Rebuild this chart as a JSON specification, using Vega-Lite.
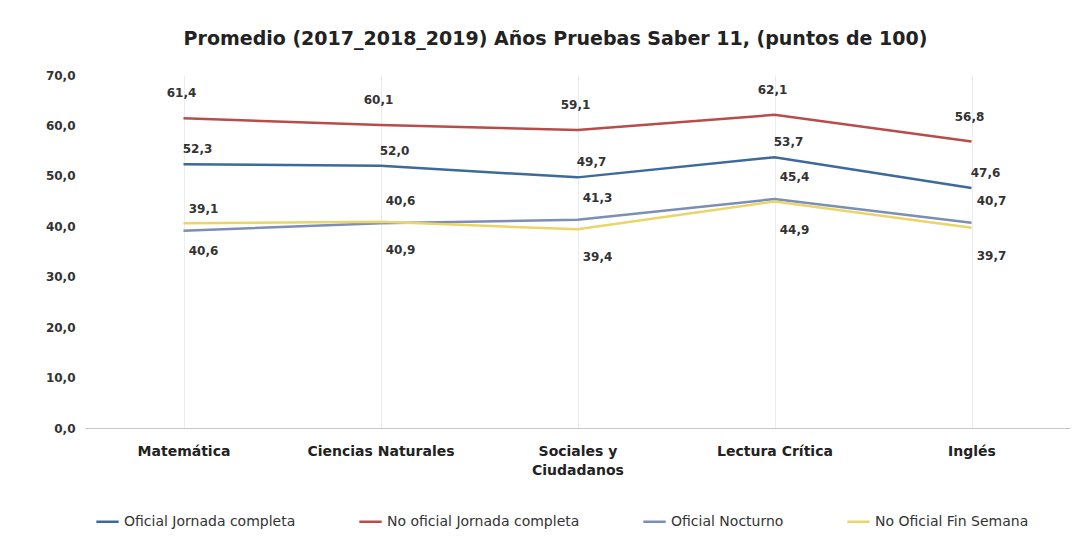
{
  "$schema": "https://vega.github.io/schema/vega-lite/v6.json",
  "width": 985,
  "height": 353,
  "autosize": {"type": "none"},
  "padding": {"left": 85, "top": 75, "right": 12, "bottom": 116},
  "background": "white",
  "title": {
    "text": "Promedio (2017_2018_2019) Años Pruebas Saber 11, (puntos de 100)",
    "font": "DejaVu Sans",
    "fontSize": 19,
    "fontWeight": "bold",
    "color": "#222222",
    "offset": 20,
    "anchor": "middle",
    "dx": -22
  },
  "config": {
    "view": {"stroke": null},
    "font": "DejaVu Sans",
    "locale": {
      "number": {"decimal": ",", "thousands": ".", "grouping": [3], "currency": ["$", ""]}
    }
  },
  "data": {
    "values": [
      {"area": "Matemática", "serie": "Oficial Jornada completa", "valor": 52.3},
      {"area": "Ciencias Naturales", "serie": "Oficial Jornada completa", "valor": 52.0},
      {"area": "Sociales y Ciudadanos", "serie": "Oficial Jornada completa", "valor": 49.7},
      {"area": "Lectura Crítica", "serie": "Oficial Jornada completa", "valor": 53.7},
      {"area": "Inglés", "serie": "Oficial Jornada completa", "valor": 47.6},
      {"area": "Matemática", "serie": "No oficial Jornada completa", "valor": 61.4},
      {"area": "Ciencias Naturales", "serie": "No oficial Jornada completa", "valor": 60.1},
      {"area": "Sociales y Ciudadanos", "serie": "No oficial Jornada completa", "valor": 59.1},
      {"area": "Lectura Crítica", "serie": "No oficial Jornada completa", "valor": 62.1},
      {"area": "Inglés", "serie": "No oficial Jornada completa", "valor": 56.8},
      {"area": "Matemática", "serie": "Oficial Nocturno", "valor": 39.1},
      {"area": "Ciencias Naturales", "serie": "Oficial Nocturno", "valor": 40.6},
      {"area": "Sociales y Ciudadanos", "serie": "Oficial Nocturno", "valor": 41.3},
      {"area": "Lectura Crítica", "serie": "Oficial Nocturno", "valor": 45.4},
      {"area": "Inglés", "serie": "Oficial Nocturno", "valor": 40.7},
      {"area": "Matemática", "serie": "No Oficial Fin Semana", "valor": 40.6},
      {"area": "Ciencias Naturales", "serie": "No Oficial Fin Semana", "valor": 40.9},
      {"area": "Sociales y Ciudadanos", "serie": "No Oficial Fin Semana", "valor": 39.4},
      {"area": "Lectura Crítica", "serie": "No Oficial Fin Semana", "valor": 44.9},
      {"area": "Inglés", "serie": "No Oficial Fin Semana", "valor": 39.7}
    ]
  },
  "encoding": {
    "x": {
      "field": "area",
      "type": "nominal",
      "sort": ["Matemática", "Ciencias Naturales", "Sociales y Ciudadanos", "Lectura Crítica", "Inglés"],
      "scale": {"type": "point", "padding": 0.5},
      "axis": {
        "title": null,
        "labelAngle": 0,
        "labelFont": "DejaVu Sans",
        "labelFontSize": 14,
        "labelFontWeight": "bold",
        "labelColor": "#222222",
        "labelPadding": 16,
        "labelLineHeight": 19,
        "labelLimit": 300,
        "ticks": false,
        "domainColor": "#c8c8c8",
        "grid": true,
        "gridColor": "#ececec",
        "labelExpr": "datum.label == 'Sociales y Ciudadanos' ? ['Sociales y', 'Ciudadanos'] : datum.label"
      }
    },
    "y": {
      "field": "valor",
      "type": "quantitative",
      "scale": {"domain": [0, 70]},
      "axis": {
        "title": null,
        "values": [0, 10, 20, 30, 40, 50, 60, 70],
        "format": ".1f",
        "labelFont": "DejaVu Sans",
        "labelFontSize": 12,
        "labelFontWeight": "bold",
        "labelColor": "#333333",
        "labelPadding": 10,
        "ticks": false,
        "domain": false,
        "grid": false
      }
    },
    "color": {
      "field": "serie",
      "type": "nominal",
      "scale": {
        "domain": ["Oficial Jornada completa", "No oficial Jornada completa", "Oficial Nocturno", "No Oficial Fin Semana"],
        "range": ["#3d6a9c", "#b84c4a", "#7c8db6", "#ead56a"]
      },
      "legend": {
        "title": null,
        "orient": "none",
        "legendX": 10,
        "legendY": 434,
        "direction": "horizontal",
        "symbolType": "stroke",
        "symbolSize": 500,
        "symbolStrokeWidth": 2.5,
        "labelFont": "DejaVu Sans",
        "labelFontSize": 14,
        "labelColor": "#333333",
        "labelLimit": 400,
        "columnPadding": 58
      }
    }
  },
  "layer": [
    {
      "mark": {"type": "line", "strokeWidth": 2.5}
    },
    {
      "transform": [{"filter": "datum.serie == 'No oficial Jornada completa'"}],
      "mark": {"type": "text", "dy": -25, "dx": -2, "font": "DejaVu Sans", "fontSize": 12, "fontWeight": "bold"},
      "encoding": {
        "text": {"field": "valor", "type": "quantitative", "format": ".1f"},
        "color": {"value": "#333333"}
      }
    },
    {
      "transform": [{"filter": "datum.serie == 'Oficial Nocturno'"}],
      "mark": {"type": "text", "dy": -22, "dx": 20, "font": "DejaVu Sans", "fontSize": 12, "fontWeight": "bold"},
      "encoding": {
        "text": {"field": "valor", "type": "quantitative", "format": ".1f"},
        "color": {"value": "#333333"}
      }
    },
    {
      "transform": [{"filter": "datum.serie == 'Oficial Jornada completa'"}],
      "mark": {"type": "text", "dy": -15, "dx": 14, "font": "DejaVu Sans", "fontSize": 12, "fontWeight": "bold"},
      "encoding": {
        "text": {"field": "valor", "type": "quantitative", "format": ".1f"},
        "color": {"value": "#333333"}
      }
    },
    {
      "transform": [{"filter": "datum.serie == 'No Oficial Fin Semana'"}],
      "mark": {"type": "text", "dy": 28, "dx": 20, "font": "DejaVu Sans", "fontSize": 12, "fontWeight": "bold"},
      "encoding": {
        "text": {"field": "valor", "type": "quantitative", "format": ".1f"},
        "color": {"value": "#333333"}
      }
    }
  ]
}
